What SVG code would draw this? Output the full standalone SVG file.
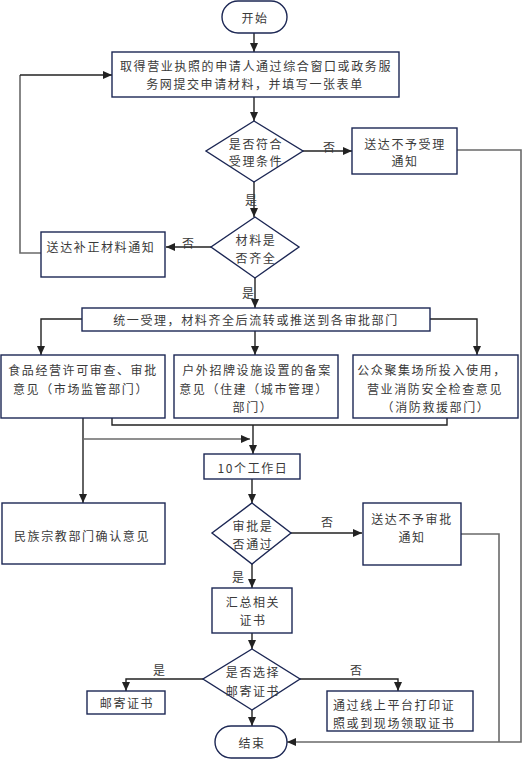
<svg xmlns="http://www.w3.org/2000/svg" width="528" height="760" viewBox="0 0 528 760">
<style>
.bg{fill:#ffffff}
.node rect,.node polygon{fill:#ffffff;stroke:#1c2754;stroke-width:1.4}
text{font-family:"Noto Sans CJK SC","Noto Sans CJK JP",sans-serif;font-size:12px;fill:#3a3a3a;letter-spacing:1.6px;dominant-baseline:central}
.c{text-anchor:middle}
.conn path{fill:none;stroke:#222;stroke-width:1.4}
.conn path.g{stroke:#6a6a6a;stroke-width:1.6}
.lbl{text-anchor:middle;letter-spacing:0}
</style>
<defs>
<marker id="ah" markerUnits="userSpaceOnUse" markerWidth="10" markerHeight="10" viewBox="0 0 10 10" refX="9" refY="5" orient="auto">
<path d="M0,1 L9,5 L0,9 Z" fill="#222"/>
</marker>
</defs>
<rect class="bg" x="0" y="0" width="528" height="760"/>

<g class="conn">
<path d="M254 33 V52" marker-end="url(#ah)"/>
<path d="M254 97 V121" marker-end="url(#ah)"/>
<path d="M303 151 H352" marker-end="url(#ah)"/>
<path class="g" d="M457 150 H521 V742 H287" marker-end="url(#ah)"/>
<path d="M254 182 V217" marker-end="url(#ah)"/>
<path d="M211 247 H166" marker-end="url(#ah)"/>
<path class="g" d="M41 253 H20 V75"/>
<path d="M20 75 H112" marker-end="url(#ah)"/>
<path d="M255 278 V308" marker-end="url(#ah)"/>
<path d="M82 319 H41 V355" marker-end="url(#ah)"/>
<path d="M255 331 V355" marker-end="url(#ah)"/>
<path d="M430 319 H477 V355" marker-end="url(#ah)"/>
<path d="M83 418 V503" marker-end="url(#ah)"/>
<path d="M112 418 V425 H447 V418"/>
<path d="M253 425 V454" marker-end="url(#ah)"/>
<path class="g" d="M83 439 H250" marker-end="url(#ah)"/>
<path d="M252 479 V503" marker-end="url(#ah)"/>
<path d="M291 533 H362" marker-end="url(#ah)"/>
<path class="g" d="M461 534 H499 V742"/>
<path d="M252 564 V588" marker-end="url(#ah)"/>
<path d="M252 633 V649" marker-end="url(#ah)"/>
<path d="M203 679 H126 V691" marker-end="url(#ah)"/>
<path d="M300 679 H398 V691" marker-end="url(#ah)"/>
<path d="M252 710 V726" marker-end="url(#ah)"/>
<text class="lbl" x="329" y="146">否</text>
<text class="lbl" x="251" y="199">是</text>
<text class="lbl" x="188" y="242">否</text>
<text class="lbl" x="248" y="292">是</text>
<text class="lbl" x="327" y="521">否</text>
<text class="lbl" x="238" y="576">是</text>
<text class="lbl" x="159" y="669">是</text>
<text class="lbl" x="356" y="669">否</text>
</g>

<g id="start" class="node">
<rect x="222" y="1" width="65" height="32" rx="16" ry="16"/>
<text class="c" x="255" y="17">开始</text>
</g>
<g id="apply" class="node">
<rect x="112" y="52" width="287" height="45"/>
<text class="c" x="256" y="65">取得营业执照的申请人通过综合窗口或政务服</text>
<text class="c" x="255" y="83">务网提交申请材料，并填写一张表单</text>
</g>
<g id="check1" class="node">
<polygon points="254,121 303,151 254,182 206,151"/>
<text class="c" x="256" y="143">是否符合</text>
<text class="c" x="256" y="160">受理条件</text>
</g>
<g id="reject1" class="node">
<rect x="352" y="128" width="105" height="46"/>
<text class="c" x="405" y="143">送达不予受理</text>
<text class="c" x="405" y="160">通知</text>
</g>
<g id="check2" class="node">
<polygon points="255,217 299,247 255,278 211,247"/>
<text class="c" x="256" y="239">材料是</text>
<text class="c" x="256" y="257">否齐全</text>
</g>
<g id="supplement" class="node">
<rect x="41" y="232" width="124" height="45"/>
<text class="c" x="101" y="246">送达补正材料通知</text>
</g>
<g id="accept" class="node">
<rect x="82" y="308" width="348" height="23"/>
<text class="c" x="256" y="319">统一受理，材料齐全后流转或推送到各审批部门</text>
</g>
<g id="deptA" class="node">
<rect x="1" y="355" width="164" height="63"/>
<text class="c" x="83" y="369">食品经营许可审查、审批</text>
<text class="c" x="81" y="388">意见（市场监管部门）</text>
</g>
<g id="deptB" class="node">
<rect x="174" y="355" width="164" height="63"/>
<text class="c" x="257" y="369">户外招牌设施设置的备案</text>
<text class="c" x="254" y="388">意见（住建（城市管理）</text>
<text class="c" x="253" y="406">部门）</text>
</g>
<g id="deptC" class="node">
<rect x="353" y="355" width="165" height="63"/>
<text class="c" x="432" y="369">公众聚集场所投入使用，</text>
<text class="c" x="435" y="388">营业消防安全检查意见</text>
<text class="c" x="436" y="406">（消防救援部门）</text>
</g>
<g id="days" class="node">
<rect x="204" y="454" width="96" height="25"/>
<text class="c" x="253" y="467">10个工作日</text>
</g>
<g id="religion" class="node">
<rect x="2" y="503" width="163" height="61"/>
<text class="c" x="82" y="535">民族宗教部门确认意见</text>
</g>
<g id="check3" class="node">
<polygon points="252,503 291,533 252,564 212,533"/>
<text class="c" x="253" y="525">审批是</text>
<text class="c" x="253" y="543">否通过</text>
</g>
<g id="reject2" class="node">
<rect x="363" y="503" width="98" height="62"/>
<text class="c" x="412" y="518">送达不予审批</text>
<text class="c" x="412" y="536">通知</text>
</g>
<g id="collect" class="node">
<rect x="212" y="588" width="80" height="45"/>
<text class="c" x="253" y="601">汇总相关</text>
<text class="c" x="253" y="619">证书</text>
</g>
<g id="check4" class="node">
<polygon points="252,649 300,679 252,710 203,679"/>
<text class="c" x="253" y="671">是否选择</text>
<text class="c" x="253" y="690">邮寄证书</text>
</g>
<g id="mail" class="node">
<rect x="87" y="691" width="78" height="23"/>
<text class="c" x="127" y="702">邮寄证书</text>
</g>
<g id="pickup" class="node">
<rect x="327" y="691" width="146" height="40"/>
<text x="333" y="704">通过线上平台打印证</text>
<text x="333" y="722">照或到现场领取证书</text>
</g>
<g id="end" class="node">
<rect x="215" y="726" width="72" height="32" rx="16" ry="16"/>
<text class="c" x="252" y="742">结束</text>
</g>
</svg>
